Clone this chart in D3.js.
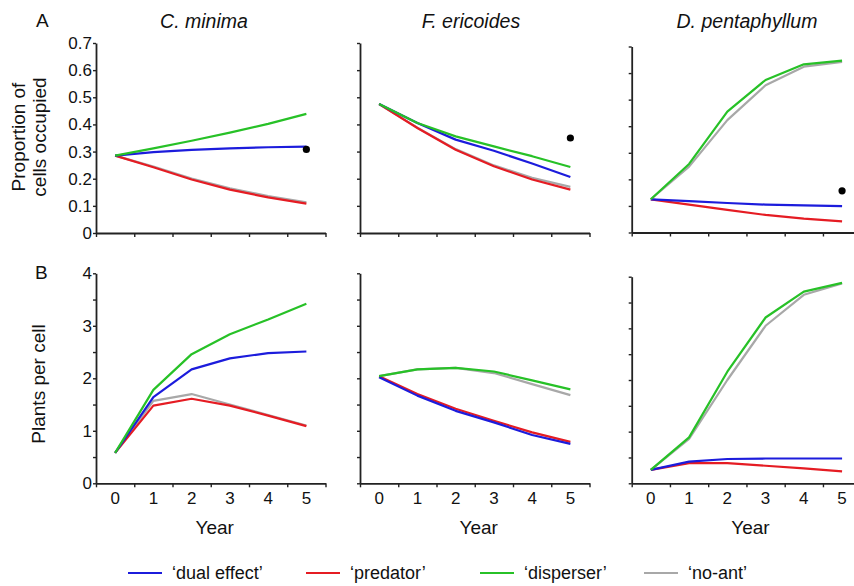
<!DOCTYPE html>
<html>
<head>
<meta charset="utf-8">
<script src="https://cdn.jsdelivr.net/npm/d3@7"></script>
<style>
  html, body { margin: 0; padding: 0; background: #fff; }
  svg { display: block; font-family: "Liberation Sans", Arial, sans-serif; }
</style>
</head>
<body>
<svg id="chart" width="854" height="586"></svg>
<script>
// Years simulated
const years = [0, 1, 2, 3, 4, 5];
const species = ["C. minima", "F. ericoides", "D. pentaphyllum"];
const scenarios = ["\u2018dual effect\u2019", "\u2018predator\u2019", "\u2018disperser\u2019", "\u2018no-ant\u2019"];

// Row A: proportion of cells occupied
const occCminDual   = [0.285, 0.298, 0.306, 0.312, 0.316, 0.318];
const occCminPred   = [0.285, 0.242, 0.197, 0.160, 0.131, 0.108];
const occCminDisp   = [0.285, 0.312, 0.340, 0.370, 0.402, 0.439];
const occCminNoAnt  = [0.285, 0.245, 0.201, 0.165, 0.136, 0.113];

const occFeriDual   = [0.475, 0.405, 0.344, 0.303, 0.256, 0.206];
const occFeriPred   = [0.475, 0.387, 0.307, 0.246, 0.197, 0.160];
const occFeriDisp   = [0.475, 0.405, 0.356, 0.319, 0.283, 0.243];
const occFeriNoAnt  = [0.475, 0.388, 0.309, 0.249, 0.203, 0.170];

const occDpenDual   = [0.125, 0.118, 0.111, 0.105, 0.102, 0.099];
const occDpenPred   = [0.125, 0.105, 0.085, 0.066, 0.052, 0.042];
const occDpenDisp   = [0.125, 0.258, 0.455, 0.574, 0.633, 0.647];
const occDpenNoAnt  = [0.125, 0.248, 0.423, 0.554, 0.624, 0.642];

// Observed occupancy (black dots at year 5)
const observedOcc = [0.308, 0.350, 0.157];

// Row B: plants per cell
const ppcCminDual   = [0.58, 1.64, 2.17, 2.38, 2.48, 2.51];
const ppcCminPred   = [0.58, 1.48, 1.61, 1.48, 1.29, 1.09];
const ppcCminDisp   = [0.58, 1.78, 2.46, 2.84, 3.12, 3.42];
const ppcCminNoAnt  = [0.58, 1.57, 1.70, 1.50, 1.30, 1.10];

const ppcFeriDual   = [2.02, 1.67, 1.38, 1.16, 0.92, 0.75];
const ppcFeriPred   = [2.04, 1.70, 1.42, 1.19, 0.97, 0.79];
const ppcFeriDisp   = [2.04, 2.17, 2.20, 2.13, 1.96, 1.79];
const ppcFeriNoAnt  = [2.04, 2.17, 2.20, 2.10, 1.89, 1.68];

const ppcDpenDual   = [0.26, 0.42, 0.47, 0.48, 0.48, 0.48];
const ppcDpenPred   = [0.26, 0.39, 0.39, 0.34, 0.29, 0.23];
const ppcDpenDisp   = [0.26, 0.89, 2.16, 3.21, 3.71, 3.88];
const ppcDpenNoAnt  = [0.26, 0.86, 2.00, 3.05, 3.65, 3.87];

// Axis ticks
const occTicks = [0, 0.1, 0.2, 0.3, 0.4, 0.5, 0.6, 0.7];
const ppcTicks = [0, 0.5, 1, 1.5, 2, 2.5, 3, 3.5, 4];
const ppcLabels = [0, 1, 2, 3, 4];

const colors = { dual: "#1c1cdc", pred: "#e51c23", disp: "#27c127", noant: "#a8a8a8" };

// series per panel, drawn back to front
function seriesSet(dual, pred, disp, noant) {
  return [
    { key: "noant", values: noant },
    { key: "pred", values: pred },
    { key: "dual", values: dual },
    { key: "disp", values: disp }
  ];
}
const occSeries = [
  seriesSet(occCminDual, occCminPred, occCminDisp, occCminNoAnt),
  seriesSet(occFeriDual, occFeriPred, occFeriDisp, occFeriNoAnt),
  seriesSet(occDpenDual, occDpenPred, occDpenDisp, occDpenNoAnt)
];
const ppcSeries = [
  seriesSet(ppcCminDual, ppcCminPred, ppcCminDisp, ppcCminNoAnt),
  seriesSet(ppcFeriDual, ppcFeriPred, ppcFeriDisp, ppcFeriNoAnt),
  seriesSet(ppcDpenDual, ppcDpenPred, ppcDpenDisp, ppcDpenNoAnt)
];

const svg = d3.select("#chart");

// layout
const colX = [96, 360, 631.7];
const plotW = 229.5;
const rowA = [{ bottom: 233, top: 43 }, { bottom: 233, top: 43 }, { bottom: 232.5, top: 46.5 }];
const rowB = [{ bottom: 483.3, top: 273.3 }, { bottom: 483.3, top: 273.3 }, { bottom: 483.3, top: 276.7 }];
const titleX = [204, 471, 747];
const axisColor = "#222";

function drawPanel(col, rowGeom, domainMax, ticks, labels, series, dotValue, showX) {
  const x = d3.scaleLinear().domain([-0.5, 5.5]).range([colX[col], colX[col] + plotW]);
  const y = d3.scaleLinear().domain([0, domainMax]).range([rowGeom.bottom, rowGeom.top]);
  const g = svg.append("g");

  // y axis (labels only on the first column)
  const yAxis = d3.axisLeft(y).tickValues(ticks).tickSize(3).tickSizeOuter(0)
    .tickFormat(d => (col === 0 && labels.includes(d)) ? (domainMax < 1 ? (d === 0 ? "0" : d3.format(".1f")(d)) : d3.format("d")(d)) : "");
  const ya = g.append("g").attr("transform", `translate(${colX[col]},0)`).call(yAxis);
  ya.select(".domain").attr("stroke", axisColor).attr("stroke-width", 1.8);
  ya.selectAll(".tick line").attr("stroke", axisColor).attr("stroke-width", 1.4);
  ya.selectAll(".tick text").attr("font-size", 17).attr("fill", "#111").attr("x", -4)
    .attr("font-family", "Liberation Sans, Arial, sans-serif");

  // x axis: boundary ticks between years
  const xAxis = d3.axisBottom(x).tickValues(d3.range(-0.5, 5.6, 1)).tickSize(4).tickSizeOuter(0).tickFormat("");
  const xa = g.append("g").attr("transform", `translate(0,${rowGeom.bottom})`).call(xAxis);
  xa.select(".domain").attr("stroke", axisColor).attr("stroke-width", 1.8);
  xa.selectAll(".tick line").attr("stroke", axisColor).attr("stroke-width", 1.4);

  if (showX) {
    g.selectAll(".yearlab").data(years).join("text")
      .attr("x", d => x(d)).attr("y", rowGeom.bottom + 21)
      .attr("text-anchor", "middle").attr("font-size", 17).attr("fill", "#111")
      .text(d => d);
    g.append("text").attr("x", x(2.5) + 4).attr("y", rowGeom.bottom + 51)
      .attr("text-anchor", "middle").attr("font-size", 19).attr("fill", "#111").text("Year");
  }

  const line = d3.line().x((d, i) => x(years[i])).y(d => y(d));
  g.selectAll(".series").data(series).join("path")
    .attr("fill", "none")
    .attr("stroke", d => colors[d.key])
    .attr("stroke-width", 2.2)
    .attr("stroke-linejoin", "round")
    .attr("d", d => line(d.values));

  if (dotValue !== null) {
    g.append("circle").attr("cx", x(5)).attr("cy", y(dotValue)).attr("r", 3.6).attr("fill", "#000");
  }
}

for (let c = 0; c < 3; c++) {
  drawPanel(c, rowA[c], 0.7, occTicks, occTicks, occSeries[c], observedOcc[c], false);
  drawPanel(c, rowB[c], 4, ppcTicks, ppcLabels, ppcSeries[c], null, true);
  svg.append("text").attr("x", titleX[c]).attr("y", 28)
    .attr("text-anchor", "middle").attr("font-size", 19.5).attr("font-style", "italic")
    .attr("fill", "#111").text(species[c]);
}

// panel letters
svg.append("text").attr("x", 36).attr("y", 27).attr("font-size", 19).attr("fill", "#111").text("A");
svg.append("text").attr("x", 35).attr("y", 279).attr("font-size", 19).attr("fill", "#111").text("B");

// y axis titles
svg.append("text").attr("transform", "translate(25,137) rotate(-90)")
  .attr("font-size", 19).attr("fill", "#111").attr("text-anchor", "middle").text("Proportion of");
svg.append("text").attr("transform", "translate(46,137) rotate(-90)")
  .attr("font-size", 19).attr("fill", "#111").attr("text-anchor", "middle").text("cells occupied");
svg.append("text").attr("transform", "translate(45,384) rotate(-90)")
  .attr("font-size", 19).attr("fill", "#111").attr("text-anchor", "middle").text("Plants per cell");

// legend
const legendKeys = ["dual", "pred", "disp", "noant"];
const legendX = [128, 306, 480, 644];
const lg = svg.append("g");
legendKeys.forEach((k, i) => {
  lg.append("line").attr("x1", legendX[i]).attr("x2", legendX[i] + 34)
    .attr("y1", 573).attr("y2", 573).attr("stroke", colors[k]).attr("stroke-width", 2.2);
  lg.append("text").attr("x", legendX[i] + 44).attr("y", 579)
    .attr("font-size", 18).attr("fill", "#111").text(scenarios[i]);
});
</script>
</body>
</html>
